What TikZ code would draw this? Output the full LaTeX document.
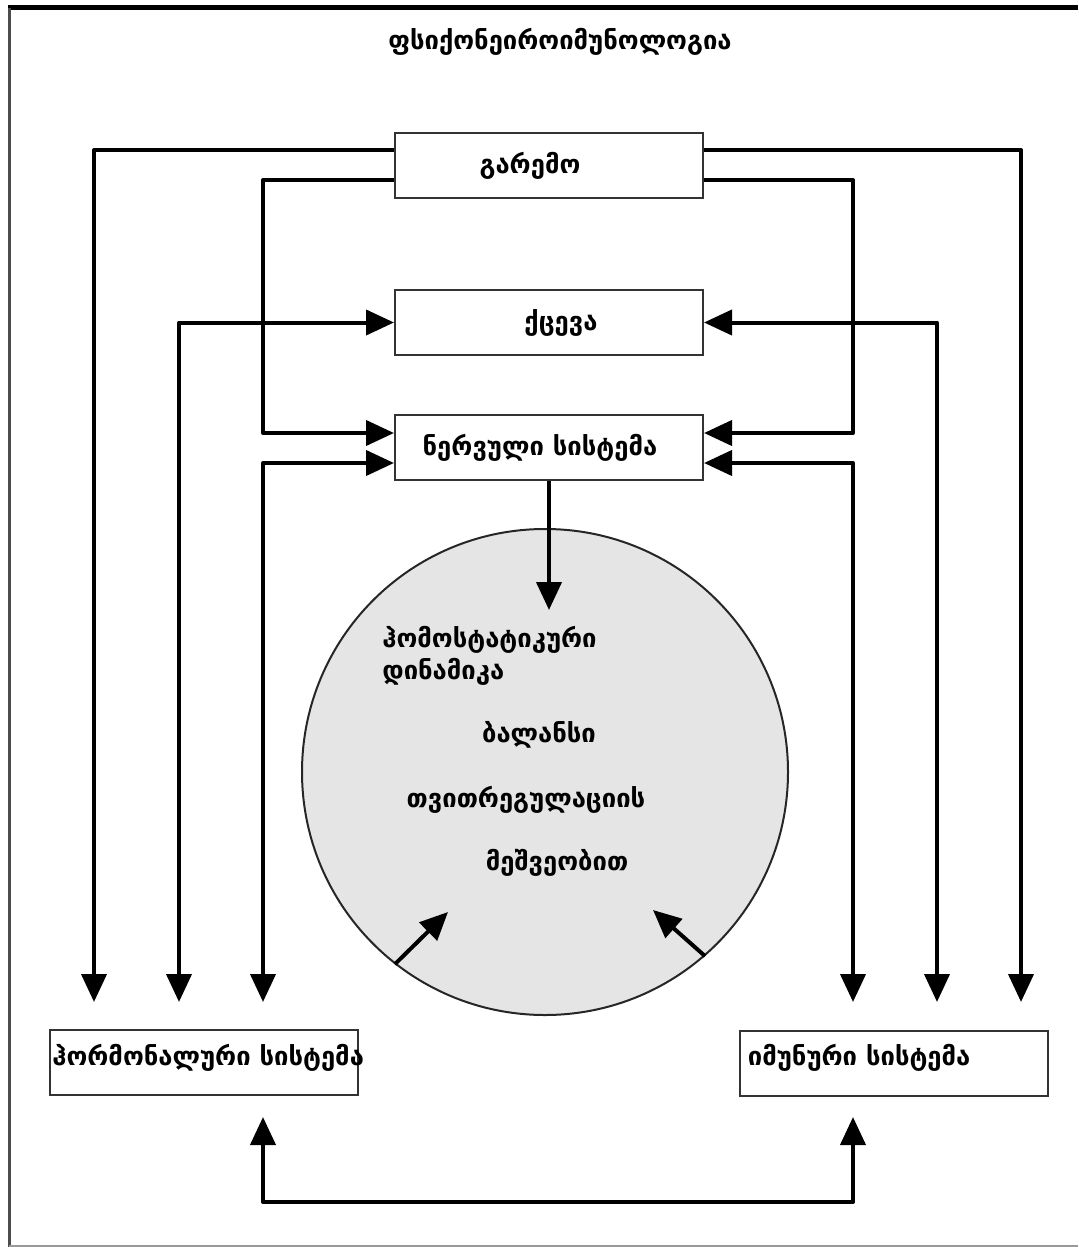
\documentclass[tikz,border=0pt]{standalone}
\usepackage{fontspec}
\setmainfont{DejaVu Sans}
\usetikzlibrary{arrows.meta}
\tikzset{
  sysbox/.style={draw=black!80, line width=1pt, minimum width=154pt, minimum height=32.5pt, inner sep=0pt},
  conn/.style={line width=2pt, line join=round},
  tip/.tip={Triangle[length=14pt, width=12.5pt]},
  lbl/.style={font=\bfseries\fontsize{12.8}{14}\selectfont, inner sep=0pt},
}
\begin{document}
\begin{tikzpicture}[x=0.5pt, y=-0.5pt, every node/.style={lbl}]
  \useasboundingbox (0,0) rectangle (1078,1247);
  % frame
  \draw[line width=2.5pt] (8,8) -- (1078,8);
  \draw[line width=1.5pt, black!70] (9,8) -- (9,1247);
  \draw[line width=1pt, black!40] (9,1246) -- (1078,1246);

  \node (title) at (560,42) {ფსიქონეიროიმუნოლოგია};

  \node[sysbox] (env) at (549,165.5) {\hspace{-19pt}გარემო};
  \node[sysbox] (beh) at (549,322.5) {\hspace{12pt}ქცევა};
  \node[sysbox] (nerv) at (549,447.5) {\hspace{-9pt}ნერვული სისტემა};
  \node[sysbox] (horm) at (204,1062.5) {};
  \node[sysbox] (imm) at (893.5,1063) {};
  \node[anchor=west] (hormtxt) at ([xshift=1.5pt,yshift=2.5pt]horm.west) {ჰორმონალური სისტემა};
  \node[anchor=west] (immtxt) at ([xshift=4.5pt,yshift=2.5pt]imm.west) {იმუნური სისტემა};

  \node[circle, draw=black!85, line width=1pt, fill=black!10, minimum size=243pt] (circ) at (545,772) {};
  \node[anchor=west] (h1) at (382,640) {ჰომოსტატიკური};
  \node[anchor=west] (h2) at (382,672) {დინამიკა};
  \node (h3) at (539,735) {ბალანსი};
  \node (h4) at (526,800) {თვითრეგულაციის};
  \node (h5) at (557,863) {მეშვეობით};

  \coordinate (ctop) at (549,610);
  \coordinate (cl) at (448,912);
  \coordinate (cr) at (653,910);
  \coordinate (la) at (94,1002);
  \coordinate (lb) at (179,1002);
  \coordinate (lc) at (263,1002);
  \coordinate (ra) at (1021,1002);
  \coordinate (rb) at (937,1002);
  \coordinate (rc) at (853,1002);
  \coordinate (hb) at (263,1117);
  \coordinate (ib) at (853,1117);

  \begin{scope}[conn]
    \draw[-tip] ([yshift=7.75pt]env.west) -| (la);
    \draw[-tip] ([yshift=7.75pt]env.east) -| (ra);
    \draw[-tip] ([yshift=-7.25pt]env.west) -- (263,180) |- ([yshift=7.25pt]nerv.west);
    \draw[-tip] ([yshift=-7.25pt]env.east) -- (853,180) |- ([yshift=7.25pt]nerv.east);
    \draw[tip-tip] (beh.west) -| (lb);
    \draw[tip-tip] (beh.east) -| (rb);
    \draw[tip-tip] ([yshift=-7.75pt]nerv.west) -| (lc);
    \draw[tip-tip] ([yshift=-7.75pt]nerv.east) -| (rc);
    \draw[-tip] (nerv.south) -- (ctop);
    \draw[-tip] (circ.232) -- (cl);
    \draw[-tip] (circ.311) -- (cr);
    \draw[tip-tip] (hb) -- (263,1202) -| (ib);
  \end{scope}
\end{tikzpicture}
\end{document}
